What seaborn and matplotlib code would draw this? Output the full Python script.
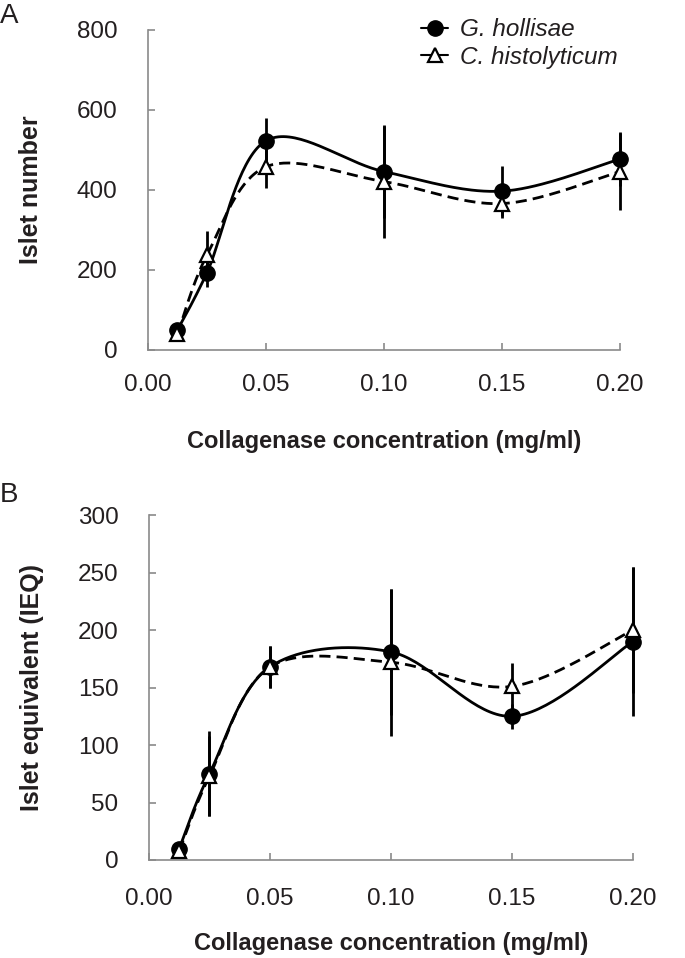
import numpy as np
import pandas as pd
import matplotlib
matplotlib.use("Agg")
import matplotlib.pyplot as plt
import seaborn as sns
from matplotlib.lines import Line2D

# collagenase concentration (mg/ml)
conc = [0.0125, 0.025, 0.05, 0.10, 0.15, 0.20]

# panel A - islet number
a_gh = [50, 193, 523, 446, 397, 477]
a_gh_err = [12, 35, 57, 115, 63, 68]
a_ch = [39, 237, 458, 421, 366, 446]
a_ch_err = [10, 61, 53, 142, 36, 96]

# panel B - islet equivalent (IEQ)
b_gh = [10, 75, 168, 181, 125, 190]
b_gh_err = [4, 37, 18, 55, 11, 65]
b_ch = [8, 73, 168, 172, 151, 200]
b_ch_err = [3, 35, 18, 64, 20, 55]

sns.set_style("ticks")
plt.rcParams['font.family'] = ['Liberation Sans', 'DejaVu Sans']

fig = plt.figure(figsize=(6.85, 9.58), dpi=100)
axA = fig.add_axes([0.216, 0.6347, 0.689, 0.334])
axB = fig.add_axes([0.2175, 0.1023, 0.7066, 0.360])

txt_col = '#231f20'
spine_col = '#8a8a8a'


def smooth(x, y, xspan, yspan):
    # excel-like smoothed line (bezier through points, catmull-rom control pts)
    px = np.asarray(x) / xspan
    py = np.asarray(y) / yspan
    n = len(px)
    out_x, out_y = [], []
    t = np.linspace(0, 1, 40)
    for i in range(n - 1):
        p0 = np.array([px[i], py[i]])
        p3 = np.array([px[i + 1], py[i + 1]])
        prev = np.array([px[i - 1], py[i - 1]]) if i > 0 else p0
        nxt = np.array([px[i + 2], py[i + 2]]) if i + 2 < n else p3
        c1 = p0 + (p3 - prev) / 6
        c2 = p3 - (nxt - p0) / 6
        b = ((1 - t) ** 3)[:, None] * p0 + (3 * (1 - t) ** 2 * t)[:, None] * c1 \
            + (3 * (1 - t) * t ** 2)[:, None] * c2 + (t ** 3)[:, None] * p3
        out_x.extend(b[:, 0] * xspan)
        out_y.extend(b[:, 1] * yspan)
    return np.array(out_x), np.array(out_y)


def draw(ax, gh, gh_err, ch, ch_err, ymax, ystep, ylabel, xpad, xlabpad):
    # x span/y span ratio roughly matching the on-screen aspect
    w = ax.get_position().width * 6.85
    h = ax.get_position().height * 9.58
    xs, ys = 0.20 / w, ymax / h
    for vals, ls in [(ch, (0, (4, 2.2))), (gh, '-')]:
        sx, sy = smooth(conc, vals, xs, ys)
        df = pd.DataFrame({'x': sx, 'y': sy})
        sns.lineplot(data=df, x='x', y='y', ax=ax, color='black', lw=2.0,
                     linestyle=ls, sort=False, estimator=None)
    ax.errorbar(conc, ch, yerr=ch_err, fmt='none', ecolor='black',
                elinewidth=2.0, capsize=0, zorder=3, clip_on=False)
    ax.errorbar(conc, gh, yerr=gh_err, fmt='none', ecolor='black',
                elinewidth=2.0, capsize=0, zorder=3, clip_on=False)
    ax.plot(conc, gh, 'o', color='black', ms=11, zorder=4, clip_on=False)
    ax.plot(conc, ch, '^', mfc='white', mec='black', mew=1.6, ms=9.5,
            zorder=5, clip_on=False)

    ax.set_xlim(0, 0.20)
    ax.set_ylim(0, ymax)
    ax.set_xticks([0.0, 0.05, 0.10, 0.15, 0.20])
    ax.set_xticklabels(['0.00', '0.05', '0.10', '0.15', '0.20'])
    ax.set_yticks(np.arange(0, ymax + 1, ystep))
    sns.despine(ax=ax)
    for s in ['left', 'bottom']:
        ax.spines[s].set_color(spine_col)
        ax.spines[s].set_linewidth(1.2)
    ax.tick_params(axis='both', direction='in', length=5, width=1.2,
                   color=spine_col, labelsize=17.5, labelcolor=txt_col)
    ax.tick_params(axis='y', pad=22)
    ax.tick_params(axis='x', pad=xpad)
    ax.set_xlabel('Collagenase concentration (mg/ml)', fontsize=17,
                  fontweight='bold', color=txt_col, labelpad=xlabpad)
    ax.set_ylabel(ylabel, fontsize=18, fontweight='bold', color=txt_col,
                  labelpad=24)


draw(axA, a_gh, a_gh_err, a_ch, a_ch_err, 800, 200, 'Islet number', 17, 25)
draw(axB, b_gh, b_gh_err, b_ch, b_ch_err, 300, 50, 'Islet equivalent (IEQ)', 20, 16)

handles = [
    Line2D([], [], color='black', lw=1.5, marker='o', ms=11),
    Line2D([], [], color='black', lw=1.5, marker='^', mfc='white', mec='black',
           mew=1.6, ms=9.5),
]
fig.legend(handles, ['G. hollisae', 'C. histolyticum'], loc='upper left',
           bbox_to_anchor=(0.583, 1.004), frameon=False, handlelength=1.1,
           handletextpad=0.5, labelspacing=0.2, prop={'size': 17.5, 'style': 'italic'},
           labelcolor=txt_col)

fig.text(0.0, 0.997, 'A', fontsize=20, va='top', ha='left', color=txt_col)
fig.text(0.0, 0.497, 'B', fontsize=20, va='top', ha='left', color=txt_col)

fig.savefig('out.png', dpi=100)
